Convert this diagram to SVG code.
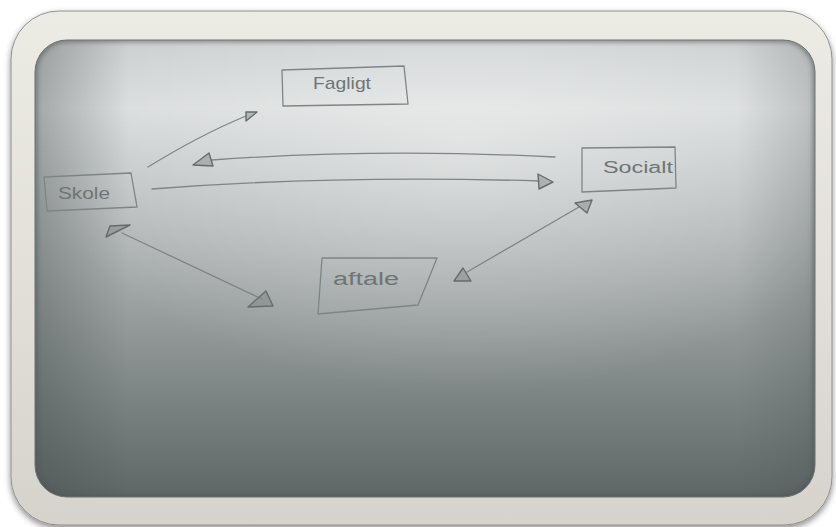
<svg xmlns="http://www.w3.org/2000/svg" width="836" height="527" viewBox="0 0 836 527">
<defs>
<style>
.pen{fill:none;stroke:#7f8585;stroke-width:1.3;stroke-linecap:round;stroke-linejoin:round}
.head{fill:#7d8383;fill-opacity:0.45;stroke:#666c6c;stroke-width:1.4;stroke-linejoin:round}
.lbl{font-family:"Liberation Sans","DejaVu Sans",sans-serif;fill:#6f7575;font-weight:normal}
</style>
<linearGradient id="frame" x1="0" y1="0" x2="0" y2="1">
<stop offset="0" stop-color="#ecebe4"/>
<stop offset="0.5" stop-color="#e2e0d9"/>
<stop offset="1" stop-color="#d6d3cc"/>
</linearGradient>
<linearGradient id="board" x1="0" y1="0" x2="0" y2="1">
<stop offset="0" stop-color="#c9cdcd"/>
<stop offset="0.15" stop-color="#d9dcdc"/>
<stop offset="0.45" stop-color="#aeb3b3"/>
<stop offset="0.8" stop-color="#7a8181"/>
<stop offset="1" stop-color="#5f6666"/>
</linearGradient>
<radialGradient id="hi" cx="0.55" cy="0.22" r="0.55">
<stop offset="0" stop-color="#ffffff" stop-opacity="0.4"/>
<stop offset="1" stop-color="#ffffff" stop-opacity="0"/>
</radialGradient>
<linearGradient id="side" x1="0" y1="0" x2="1" y2="0">
<stop offset="0" stop-color="#3f4646" stop-opacity="0.35"/>
<stop offset="0.12" stop-color="#3f4646" stop-opacity="0"/>
<stop offset="0.9" stop-color="#3f4646" stop-opacity="0"/>
<stop offset="1" stop-color="#3f4646" stop-opacity="0.2"/>
</linearGradient>
<filter id="shadow" x="-5%" y="-5%" width="110%" height="115%">
<feDropShadow dx="0" dy="3" stdDeviation="3" flood-color="#000" flood-opacity="0.45"/>
</filter>
<filter id="blur"><feGaussianBlur stdDeviation="2"/></filter>
<clipPath id="bclip"><rect x="35" y="40" width="780" height="457" rx="32"/></clipPath>
</defs>
<rect width="836" height="527" fill="#ffffff"/>
<g id="frame-g">
<rect x="11" y="11" width="821" height="514" rx="48" fill="url(#frame)" stroke="#8e9190" stroke-width="1" filter="url(#shadow)"/>
<rect x="35" y="40" width="780" height="457" rx="32" fill="url(#board)"/>
<rect x="35" y="40" width="780" height="457" rx="32" fill="url(#hi)"/>
<rect x="35" y="40" width="780" height="457" rx="32" fill="url(#side)"/>
<g clip-path="url(#bclip)">
<rect x="35" y="40" width="780" height="457" rx="32" fill="none" stroke="#4c5454" stroke-width="5" stroke-opacity="0.55" filter="url(#blur)"/>
</g>
<rect x="35" y="40" width="780" height="457" rx="32" fill="none" stroke="#6d7373" stroke-width="1"/>
</g>
<g id="connectors">
<path class="pen" d="M148,167 Q200,135 246,116"/>
<polygon class="head" points="257,112 246,112 246,121"/>
<path class="pen" d="M555,157 Q380,148 212,160"/>
<polygon class="head" points="193,165 209,153 213,166"/>
<path class="pen" d="M152,189 Q330,175 539,181"/>
<polygon class="head" points="553,182 538,174 539,189"/>
<path class="pen" d="M122,233 L262,299"/>
<polygon class="head" points="106,237 110,226 130,225"/>
<polygon class="head" points="248,307 273,306 266,291"/>
<path class="pen" d="M467,272 L579,207"/>
<polygon class="head" points="454,281 471,281 463,268"/>
<polygon class="head" points="575,203 592,200 587,213"/>
</g>
<g id="fagligt">
<path class="pen" d="M282,70 L404,66 L408,104 L283,106 Z"/>
<text class="lbl" x="313" y="89" font-size="17" textLength="58" lengthAdjust="spacingAndGlyphs">Fagligt</text>
</g>
<g id="skole">
<path class="pen" d="M44,177 L131,173 L137,207 L47,211 Z"/>
<text class="lbl" x="58" y="199" font-size="16" textLength="52" lengthAdjust="spacingAndGlyphs">Skole</text>
</g>
<g id="socialt">
<path class="pen" d="M582,148 L675,147 L676,188 L582,192 Z"/>
<text class="lbl" x="603" y="173" font-size="16" textLength="70" lengthAdjust="spacingAndGlyphs">Socialt</text>
</g>
<g id="aftale">
<path class="pen" d="M322,258 L437,258 L418,305 L318,314 Z"/>
<text class="lbl" x="333" y="285" font-size="18" textLength="66" lengthAdjust="spacingAndGlyphs">aftale</text>
</g>
</svg>
